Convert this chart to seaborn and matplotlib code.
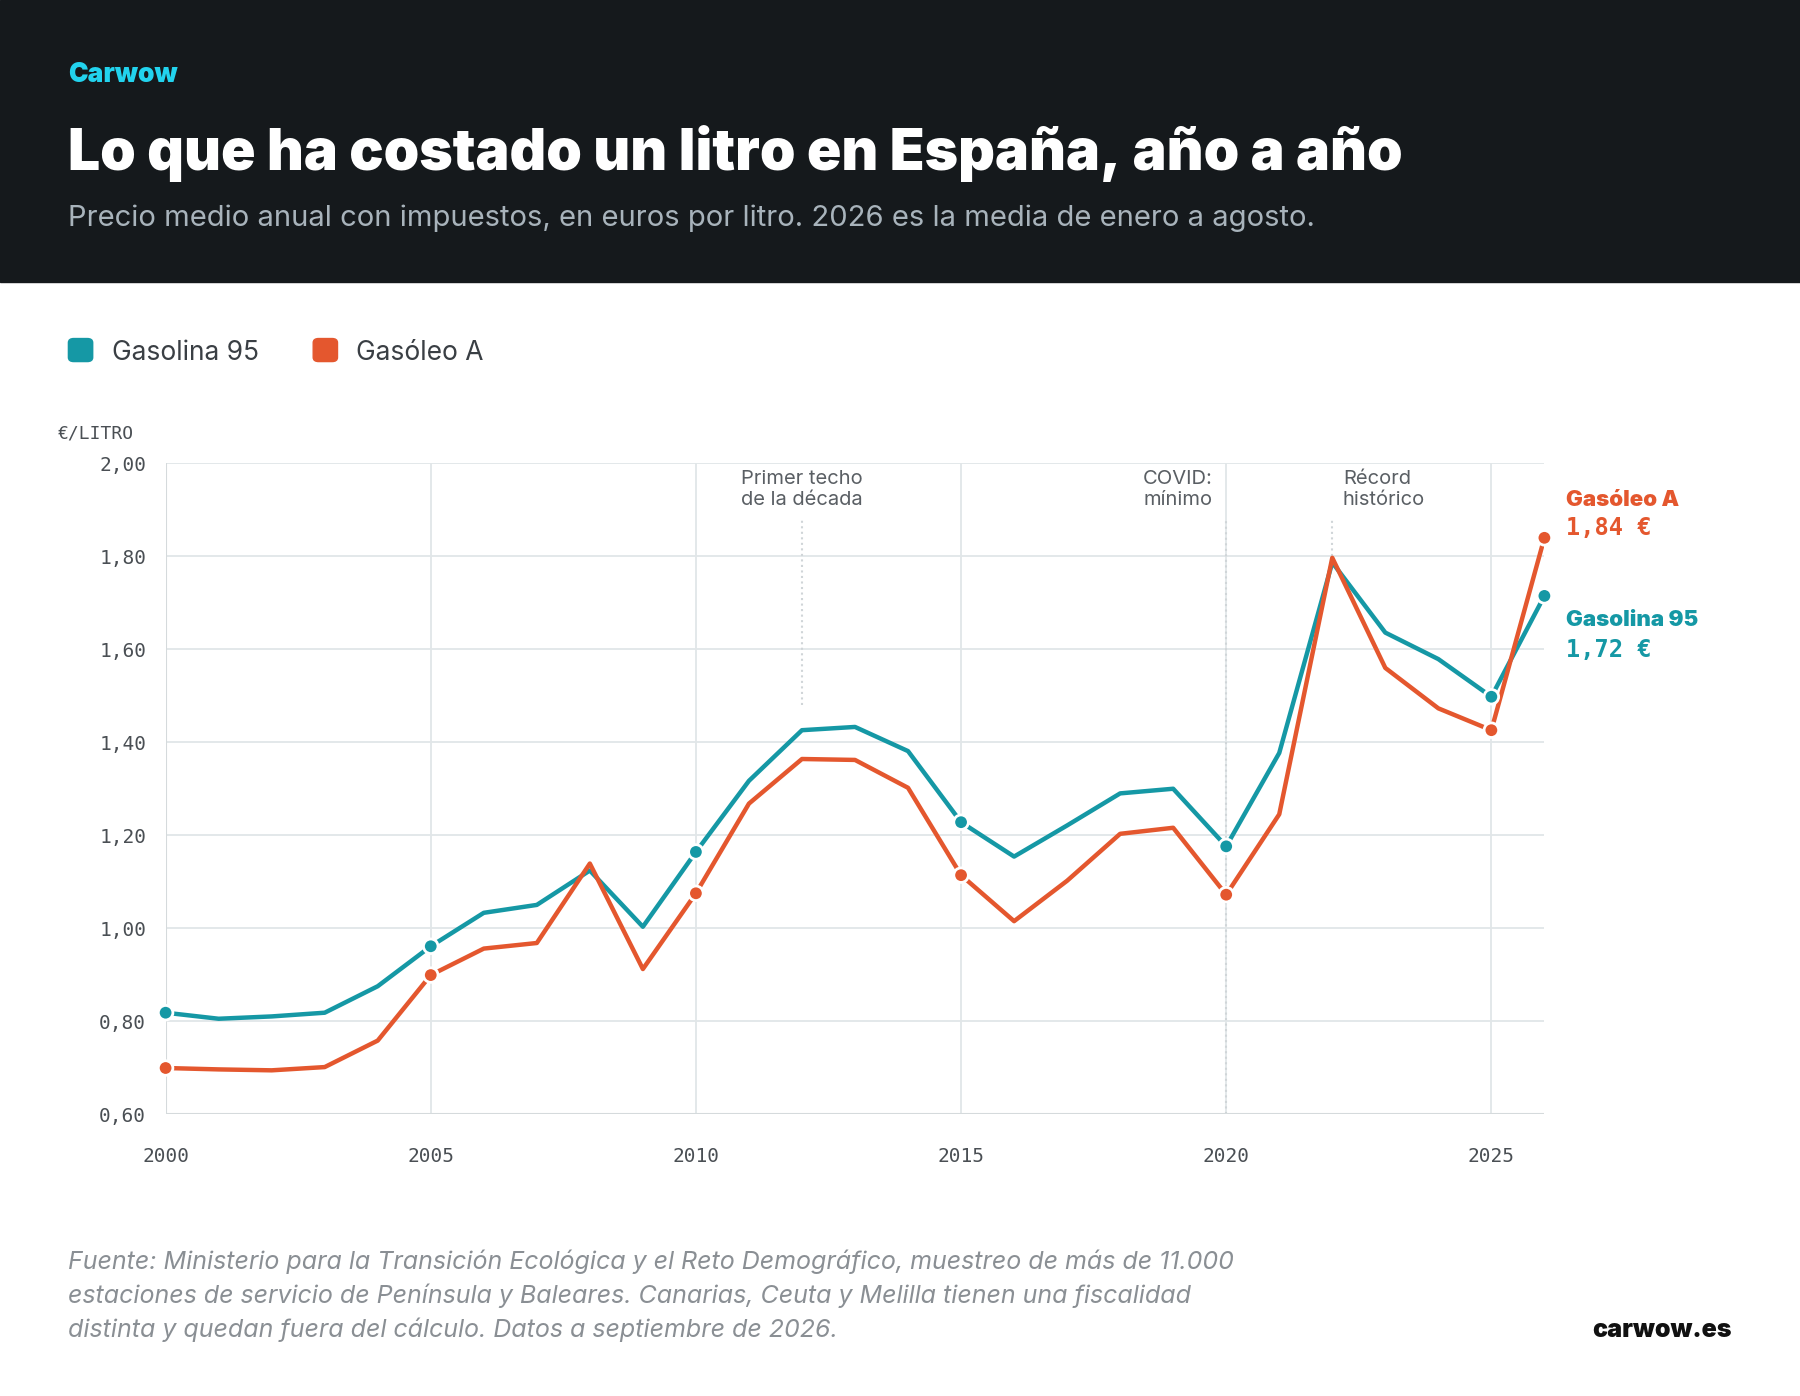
import matplotlib
matplotlib.use("Agg")
import matplotlib.pyplot as plt
from matplotlib.patches import FancyBboxPatch
import seaborn as sns
import pandas as pd

years = list(range(2000, 2027))
gasolina = [0.818, 0.805, 0.81, 0.818, 0.875, 0.961, 1.033, 1.05, 1.124, 1.003, 1.164, 1.317, 1.426, 1.433,
            1.381, 1.228, 1.154, 1.221, 1.29, 1.30, 1.176, 1.377, 1.787, 1.636, 1.579, 1.498, 1.715]
gasoleo = [0.699, 0.696, 0.694, 0.701, 0.758, 0.899, 0.956, 0.968, 1.139, 0.912, 1.075, 1.268, 1.364, 1.362,
           1.302, 1.114, 1.015, 1.102, 1.203, 1.216, 1.072, 1.245, 1.797, 1.56, 1.473, 1.426, 1.84]
marker_years = [2000, 2005, 2010, 2015, 2020, 2025, 2026]
colors = {"Gasolina 95": "#1598a5", "Gasóleo A": "#e4572e"}
annotations = [(2012, "Primer techo\nde la década", 1.48), (2020, "COVID:\nmínimo", 1.18), (2022, "Récord\nhistórico", 1.80)]

df = pd.DataFrame({"year": years * 2,
                   "price": gasolina + gasoleo,
                   "serie": ["Gasolina 95"] * len(years) + ["Gasóleo A"] * len(years)})

sns.set_theme(style="white")
plt.rcParams["font.family"] = ["Inter", "DejaVu Sans"]

fig = plt.figure(figsize=(18, 13.96), dpi=100)
fig.patch.set_facecolor("white")
# cabecera oscura
fig.patches.append(plt.Rectangle((0, 0.798), 1, 0.202, transform=fig.transFigure, color="#15191c", zorder=0))
fig.text(0.038, 0.941, "Carwow", color="#22d3ee", fontsize=19, fontweight="black")
fig.text(0.038, 0.878, "Lo que ha costado un litro en España, año a año", color="white", fontsize=41, fontweight="black")
fig.text(0.038, 0.838, "Precio medio anual con impuestos, en euros por litro. 2026 es la media de enero a agosto.",
         color="#a8b3bb", fontsize=21)

# leyenda
for x0, name in [(0.038, "Gasolina 95"), (0.174, "Gasóleo A")]:
    fig.patches.append(FancyBboxPatch((x0, 0.741), 0.0135, 0.0165, boxstyle="round,pad=0,rounding_size=0.003",
                                      transform=fig.transFigure, color=colors[name], zorder=2))
    fig.text(x0 + 0.024, 0.742, name, fontsize=19, color="#3a3f44")

ax = fig.add_axes([0.092, 0.202, 0.766, 0.466])
sns.lineplot(data=df, x="year", y="price", hue="serie", palette=colors, linewidth=3.2, ax=ax, legend=False, zorder=3)
mk = df[df["year"].isin(marker_years)]
sns.scatterplot(data=mk, x="year", y="price", hue="serie", palette=colors, s=110, edgecolor="white",
                linewidth=2, ax=ax, legend=False, zorder=4, clip_on=False)

ax.set_xlim(2000, 2026)
ax.set_ylim(0.6, 2.0)
ax.set_xticks([2000, 2005, 2010, 2015, 2020, 2025])
ax.set_yticks([0.6, 0.8, 1.0, 1.2, 1.4, 1.6, 1.8, 2.0])
ax.set_yticklabels([f"{v:.2f}".replace(".", ",") for v in ax.get_yticks()])
ax.grid(True, color="#e1e6e8", linewidth=1.3)
for s in ax.spines.values():
    s.set_visible(False)
ax.axhline(0.6, color="#d5dadc", linewidth=1.5)
ax.axvline(2000, color="#d5dadc", linewidth=1.5)
ax.tick_params(length=0, labelsize=14, colors="#4a4f54")
ax.tick_params(axis="x", pad=24)
ax.tick_params(axis="y", pad=14)
for lab in ax.get_xticklabels() + ax.get_yticklabels():
    lab.set_family("DejaVu Sans Mono")
ax.set_xlabel("")
ax.set_ylabel("")
ax.text(-0.078, 1.038, "€/LITRO", transform=ax.transAxes, fontsize=13, color="#4a4f54",
        family="DejaVu Sans Mono")

for yr, txt, ytop in annotations:
    ax.plot([yr, yr], [0.6 if yr == 2020 else ytop, 1.88], color="#d0d5d8", linestyle=":", linewidth=1.5, zorder=1)
    ax.text(yr + (0 if yr == 2012 else (-0.25 if yr == 2020 else 0.2)), 1.985, txt, fontsize=14.5, color="#5a5f64",
            ha="center" if yr == 2012 else ("right" if yr == 2020 else "left"), va="top", linespacing=1.2)

ax.text(1.016, 0.935, "Gasóleo A", transform=ax.transAxes, color=colors["Gasóleo A"], fontsize=16, fontweight="black")
ax.text(1.016, 0.89, "1,84 €", transform=ax.transAxes, color=colors["Gasóleo A"], fontsize=17,
        fontweight="bold", family="DejaVu Sans Mono")
ax.text(1.016, 0.75, "Gasolina 95", transform=ax.transAxes, color=colors["Gasolina 95"], fontsize=16, fontweight="black")
ax.text(1.016, 0.703, "1,72 €", transform=ax.transAxes, color=colors["Gasolina 95"], fontsize=17,
        fontweight="bold", family="DejaVu Sans Mono")

fig.text(0.038, 0.042, "Fuente: Ministerio para la Transición Ecológica y el Reto Demográfico, muestreo de más de 11.000\n"
         "estaciones de servicio de Península y Baleares. Canarias, Ceuta y Melilla tienen una fiscalidad\n"
         "distinta y quedan fuera del cálculo. Datos a septiembre de 2026.",
         fontsize=18, color="#8a8f94", style="italic", linespacing=1.5)
fig.text(0.962, 0.042, "carwow.es", fontsize=18, fontweight="black", color="#111", ha="right")

fig.savefig("out.png", dpi=100)
